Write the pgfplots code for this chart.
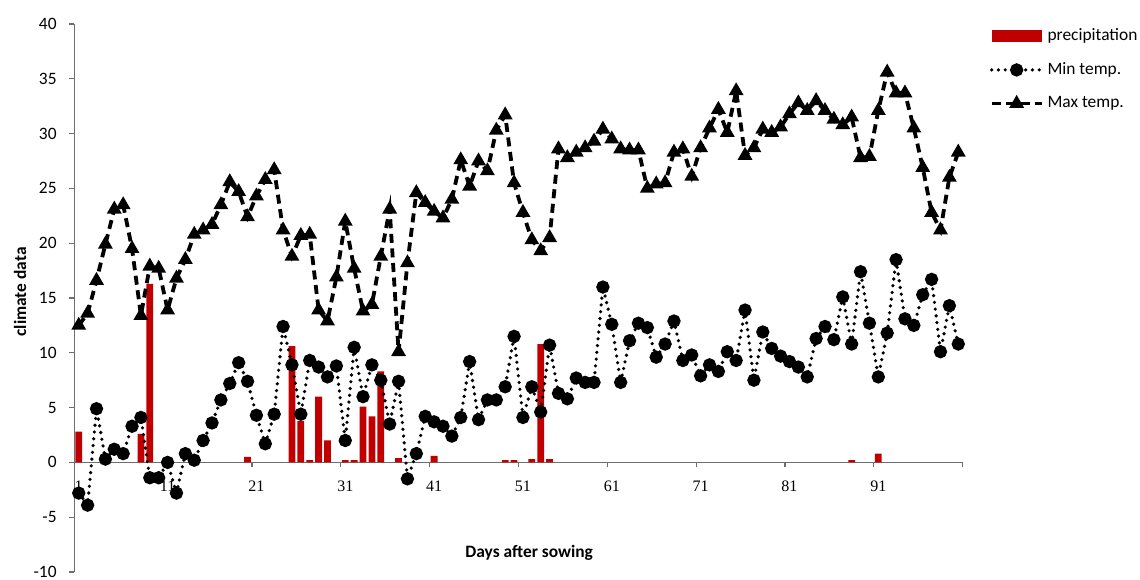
\documentclass[border=0pt]{standalone}
\usepackage{fontspec}
\setmainfont{Carlito}
\newfontfamily\serif{Liberation Serif}
\usepackage{pgfplots}
\usepackage{pgfplotstable}
\pgfplotsset{compat=1.18}
\definecolor{prec}{RGB}{192,0,0}
\definecolor{axgray}{RGB}{110,110,110}

\pgfplotstableread{
day p
1 2.8
8 2.6
9 16.3
20 0.5
25 10.6
26 3.8
27 0.2
28 6.0
29 2.0
31 0.2
32 0.2
33 5.1
34 4.2
35 8.3
37 0.4
41 0.6
49 0.2
50 0.2
52 0.3
53 10.8
54 0.3
88 0.2
91 0.8
}\prectable

\pgfplotstableread{
day tmin tmax
1 -2.8 12.5
2 -3.9 13.6
3 4.9 16.6
4 0.3 19.9
5 1.2 23.1
6 0.8 23.5
7 3.3 19.5
8 4.1 13.4
9 -1.4 17.9
10 -1.4 17.7
11 0.0 13.9
12 -2.8 16.8
13 0.8 18.5
14 0.2 20.8
15 2.0 21.2
16 3.6 21.7
17 5.7 23.5
18 7.2 25.6
19 9.1 24.7
20 7.4 22.4
21 4.3 24.3
22 1.7 25.8
23 4.4 26.7
24 12.4 21.2
25 8.9 18.8
26 4.4 20.7
27 9.3 20.8
28 8.7 13.9
29 7.8 12.9
30 8.8 16.9
31 2.0 22.0
32 10.5 17.7
33 6.0 13.8
34 8.9 14.4
35 7.5 18.8
36 3.5 23.1
37 7.4 10.1
38 -1.5 18.2
39 0.8 24.6
40 4.2 23.7
41 3.7 22.9
42 3.3 22.3
43 2.4 24.0
44 4.1 27.6
45 9.2 25.2
46 3.9 27.5
47 5.7 26.6
48 5.7 30.3
49 6.9 31.7
50 11.5 25.5
51 4.1 22.8
52 6.9 20.3
53 4.6 19.3
54 10.7 20.5
55 6.3 28.6
56 5.8 27.8
57 7.7 28.3
58 7.3 28.7
59 7.3 29.3
60 16.0 30.4
61 12.6 29.5
62 7.3 28.6
63 11.1 28.5
64 12.7 28.5
65 12.3 25.0
66 9.6 25.4
67 10.8 25.5
68 12.9 28.3
69 9.3 28.6
70 9.8 26.1
71 7.9 28.7
72 8.9 30.5
73 8.3 32.2
74 10.1 30.1
75 9.3 33.9
76 13.9 28.0
77 7.5 28.7
78 11.9 30.4
79 10.4 30.1
80 9.7 30.6
81 9.2 31.8
82 8.7 32.8
83 7.8 32.1
84 11.3 33.0
85 12.4 32.1
86 11.2 31.3
87 15.1 30.8
88 10.8 31.5
89 17.4 27.8
90 12.7 27.9
91 7.8 32.1
92 11.8 35.6
93 18.5 33.7
94 13.1 33.7
95 12.5 30.5
96 15.3 26.9
97 16.7 22.8
98 10.1 21.2
99 14.3 26.0
100 10.8 28.3
}\temptable

\begin{document}
\begin{tikzpicture}
\path[use as bounding box] (-37.15pt,-3.5pt) rectangle (532.85pt,286pt);
\begin{axis}[
  scale only axis, width=444.2pt, height=274pt,
  xmin=0.5, xmax=100.5, ymin=-10, ymax=40,
  axis y line=left, axis x line=middle,
  axis line style={-, draw=axgray, line width=0.6pt},
  every inner x axis line/.append style={-},
  every outer y axis line/.append style={-},
  xtick={1,11,...,91}, xticklabels={1,11,21,31,41,51,61,71,81,91},
  minor xtick={0.5,10.5,...,100.5},
  ytick={-10,-5,...,40}, yticklabels={-10,-5,0,5,10,15,20,25,30,35,40},
  tick align=outside, major tick length=2.5pt, minor tick length=2.5pt,
  tick style={draw=axgray, line width=0.6pt},
  major x tick style={draw=none},
  minor x tick style={draw=axgray, line width=0.6pt},
  hide obscured x ticks=false, hide obscured y ticks=false,
  xticklabel style={font=\serif\fontsize{8}{9}\selectfont, yshift=-3.4pt},
  yticklabel style={font=\fontsize{8.7}{10}\selectfont, xshift=-2.8pt},
  xlabel={Days after sowing}, ylabel={climate data},
  xlabel style={at={(axis description cs:0.512,0.035)}, anchor=center, font=\bfseries\fontsize{8.7}{10}\selectfont},
  ylabel style={at={(axis description cs:-0.061,0.511)}, anchor=center, font=\bfseries\fontsize{8.7}{10}\selectfont},
  clip=false,
  legend style={at={(axis description cs:1.03,1.0)}, anchor=north west, draw=none, fill=none,
    font=\fontsize{8.7}{10}\selectfont, row sep=5.5pt, inner sep=0pt},
  legend cell align=left,
  legend image code/.code={\draw[mark repeat=2, mark phase=2, #1] plot coordinates {(0pt,0pt) (12.5pt,0pt) (25pt,0pt)};},
]
\addplot[ybar, bar width=3.4pt, fill=prec, draw=none,
  legend image code/.code={\fill[prec] (0pt,-3.2pt) rectangle (25pt,3.2pt);}] table[x=day, y=p] {\prectable};
\addlegendentry{precipitation}
\addplot[black, line width=1.8pt, dash pattern=on 0pt off 3.4pt, line cap=round,
  mark=*, mark size=2.4pt, mark options={solid}] table[x=day, y=tmin] {\temptable};
\addlegendentry{Min temp.}
\addplot[black, line width=1.9pt, dash pattern=on 4.5pt off 2.8pt,
  mark=triangle*, mark size=2.4pt, mark options={solid}] table[x=day, y=tmax] {\temptable};
\addlegendentry{Max temp.}
\end{axis}
\end{tikzpicture}
\end{document}
